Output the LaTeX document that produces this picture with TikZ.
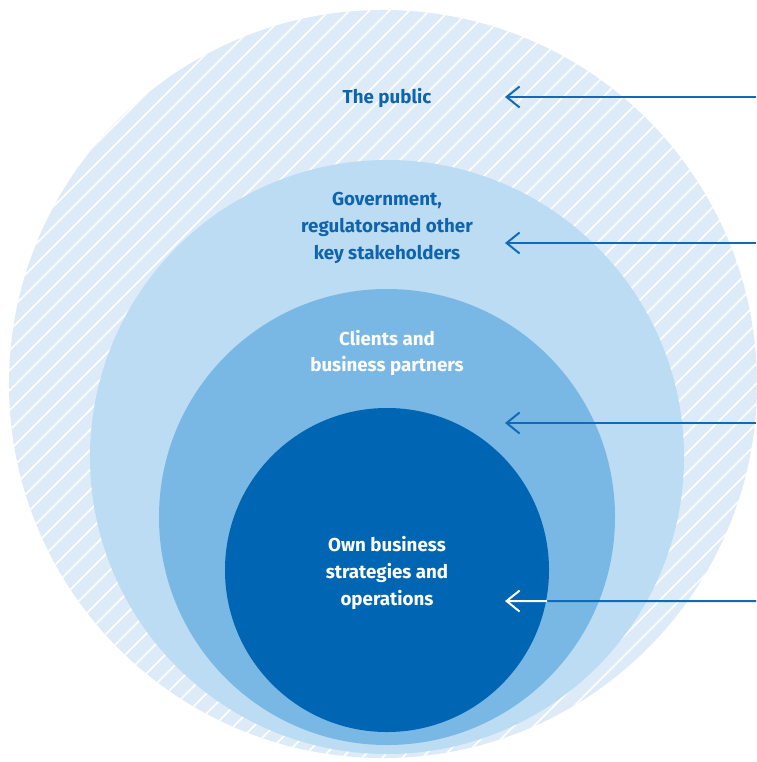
\documentclass[tikz,border=0pt]{standalone}
\usepackage{fontspec}
\setmainfont{Fira Sans}
\usetikzlibrary{arrows.meta}

\definecolor{ringpale}{HTML}{DCEBF7}
\definecolor{ringlight}{HTML}{BBDCF3}
\definecolor{ringmid}{HTML}{79B8E4}
\definecolor{ringdark}{HTML}{0065B2}
\definecolor{textblue}{HTML}{0F64AE}
\definecolor{lineblue}{HTML}{0F6AB7}

\begin{document}
\begin{tikzpicture}[x=0.03cm, y=-0.03cm, >={Straight Barb[length=3.9mm,width=6.3mm]}, line width=1.7pt,
  ring/.style={circle, inner sep=0pt, draw=none},
  lbl/.style={align=center, font=\bfseries\fontsize{16}{23}\selectfont},
  pointer/.style={->, draw=lineblue}]

\useasboundingbox (0,0) rectangle (756,762);

\node[ring, fill=ringpale, minimum size=22.44cm] (pub) at (383,384) {};
\begin{scope}
\clip (pub.center) circle (11.22cm);
\foreach \c in {0,20,...,1600}
  \draw[white, line width=1.3pt] (\c,0) -- (\c-800,800);
\end{scope}
\node[ring, fill=ringlight, minimum size=17.82cm] (gov) at (387,457) {};
\node[ring, fill=ringmid, minimum size=13.68cm] (cli) at (387,517) {};
\node[ring, fill=ringdark, minimum size=9.72cm] (own) at (387,570) {};

\node[lbl, text=textblue] (publbl) at (387,98) {The public};
\node[lbl, text=textblue] (govlbl) at (387,228) {Government,\\regulatorsand other\\key stakeholders};
\node[lbl, text=white] (clilbl) at (387,353) {Clients and\\business partners};
\node[lbl, text=white] (ownlbl) at (387,573) {Own business\\strategies and\\operations};

\coordinate (pubR) at (756,97);
\coordinate (pubT) at (505,97);
\coordinate (govR) at (756,243);
\coordinate (govT) at (505,243);
\coordinate (cliR) at (756,423);
\coordinate (cliT) at (505,423);
\coordinate (ownR) at (756,601);
\coordinate (ownT) at (505,601);

\draw[pointer] (pubR) -- (pubT);
\draw[pointer] (govR) -- (govT);
\draw[pointer] (cliR) -- (cliT);
\draw[lineblue] (ownR) -- (own.-11);
\draw[->, white] (own.-11) -- (ownT);

\end{tikzpicture}
\end{document}
